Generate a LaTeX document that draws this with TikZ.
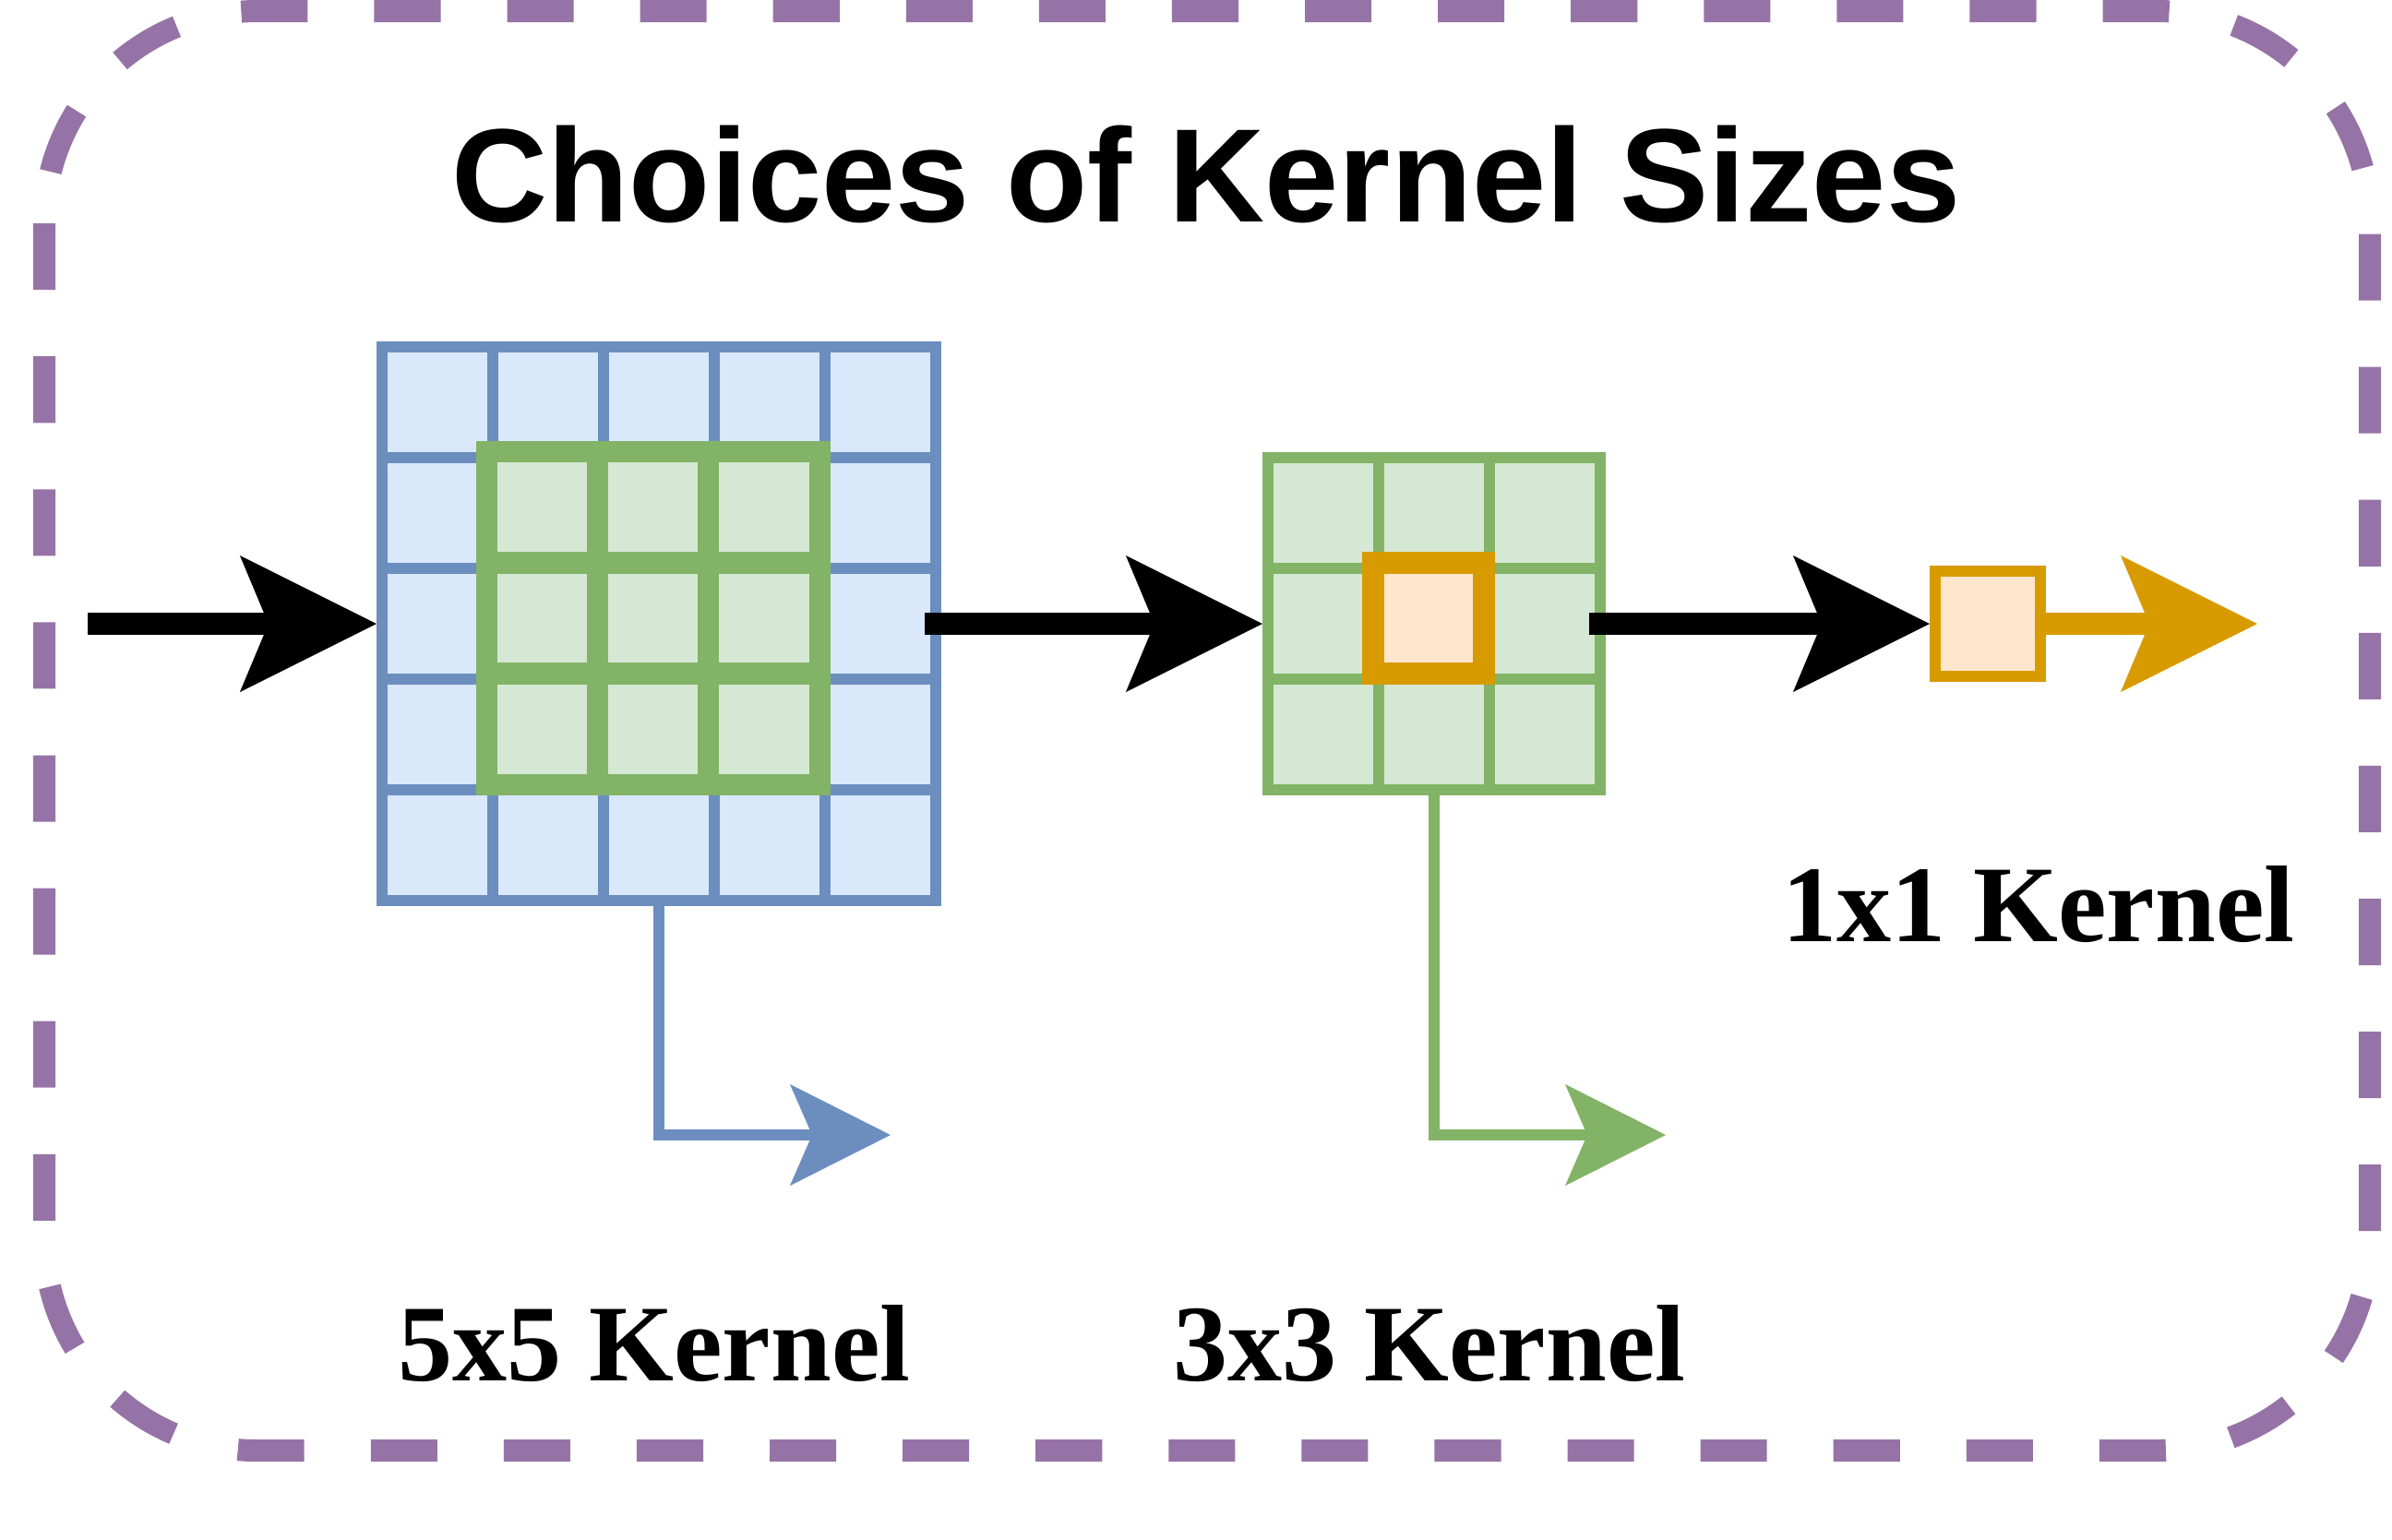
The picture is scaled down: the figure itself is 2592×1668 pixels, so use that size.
\documentclass[tikz,border=0pt]{standalone}
\usepackage{fontspec}
\setmainfont{Liberation Serif}
\newfontfamily\headfont{Liberation Sans}
\usetikzlibrary{arrows.meta,positioning}

\definecolor{kblue}{HTML}{6C8EBF}
\definecolor{kbluefill}{HTML}{DAE8FC}
\definecolor{kgreen}{HTML}{82B366}
\definecolor{kgreenfill}{HTML}{D5E8D4}
\definecolor{korange}{HTML}{D79B00}
\definecolor{korangefill}{HTML}{FFE6CC}
\definecolor{kpurple}{HTML}{9673A6}

\begin{document}
\begin{tikzpicture}[
        x=0.01cm, y=-0.01cm,
        gridcell/.style={draw, minimum size=1.2cm, inner sep=0pt},
        bluecell/.style={gridcell, draw=kblue, fill=kbluefill, line width=0.12cm},
        greencell/.style={gridcell, draw=kgreen, fill=kgreenfill, line width=0.12cm},
        pickgreen/.style={gridcell, draw=kgreen, fill=kgreenfill, line width=0.23cm},
        pickorange/.style={gridcell, draw=korange, fill=korangefill, line width=0.24cm},
        onecell/.style={gridcell, minimum size=1.14cm, draw=korange, fill=korangefill, line width=0.12cm},
        bigarrow/.style={line width=0.24cm, -{Stealth[length=1.48cm, width=1.48cm, inset=0.31cm, line width=0pt]}},
        thinarrow/.style={line width=0.12cm, -{Stealth[length=1.09cm, width=1.1cm, inset=0.24cm, line width=0pt]}},
        kname/.style={anchor=base, font=\fontsize{33.6pt}{40pt}\selectfont\bfseries}
    ]
        \useasboundingbox (0,0) rectangle (2592,1668);

        % Frame
        \draw[kpurple, line width=0.24cm, dash pattern=on 0.72cm off 0.72cm, rounded corners=2.3cm] (48,12) rectangle (2568,1572);

        % Title
        \node[anchor=base, font=\fontsize{41pt}{49pt}\headfont\bfseries] (title) at (1307,240) {Choices of Kernel Sizes};

        % 5x5 input grid
        \foreach \r in {1,...,5}
            \foreach \c in {1,...,5}
                \node[bluecell] (b-\r-\c) at ({354+120*\c},{316+120*\r}) {};

        % 3x3 window on the input
        \foreach \r in {1,2,3}
            \foreach \c in {1,2,3}
                \node[pickgreen] (w-\r-\c) at ({468+120*\c},{430+120*\r}) {};

        % 3x3 grid
        \foreach \r in {1,2,3}
            \foreach \c in {1,2,3}
                \node[greencell] (g-\r-\c) at ({1314+120*\c},{436+120*\r}) {};

        % 1x1 window on the 3x3 grid
        \node[pickorange] (p) at (1548,670) {};

        % 1x1 cell
        \node[onecell] (one) at (2154,676) {};

        % Free ends
        \coordinate (in) at (95,676);
        \coordinate (out1) at (2446,676);
        \coordinate (out5) at (965,1230);
        \coordinate (out3) at (1805,1230);

        % Arrows
        \draw[bigarrow] (in) -- (b-3-1.west);
        \draw[bigarrow] (b-3-5.center) ++(48,0) -- (g-2-1.west);
        \draw[bigarrow] (g-2-3.center) ++(48,0) -- (one.west);
        \draw[bigarrow, korange] (one.east) -- (out1);
        \draw[thinarrow, kblue] (b-5-3.south) |- (out5);
        \draw[thinarrow, kgreen] (g-3-2.south) |- (out3);

        % Labels
        \node[kname] (lab5) at (709,1496) {5x5 Kernel};
        \node[kname] (lab3) at (1549,1496) {3x3 Kernel};
        \node[kname] (lab1) at (2209,1020) {1x1 Kernel};
    \end{tikzpicture}
\end{document}
